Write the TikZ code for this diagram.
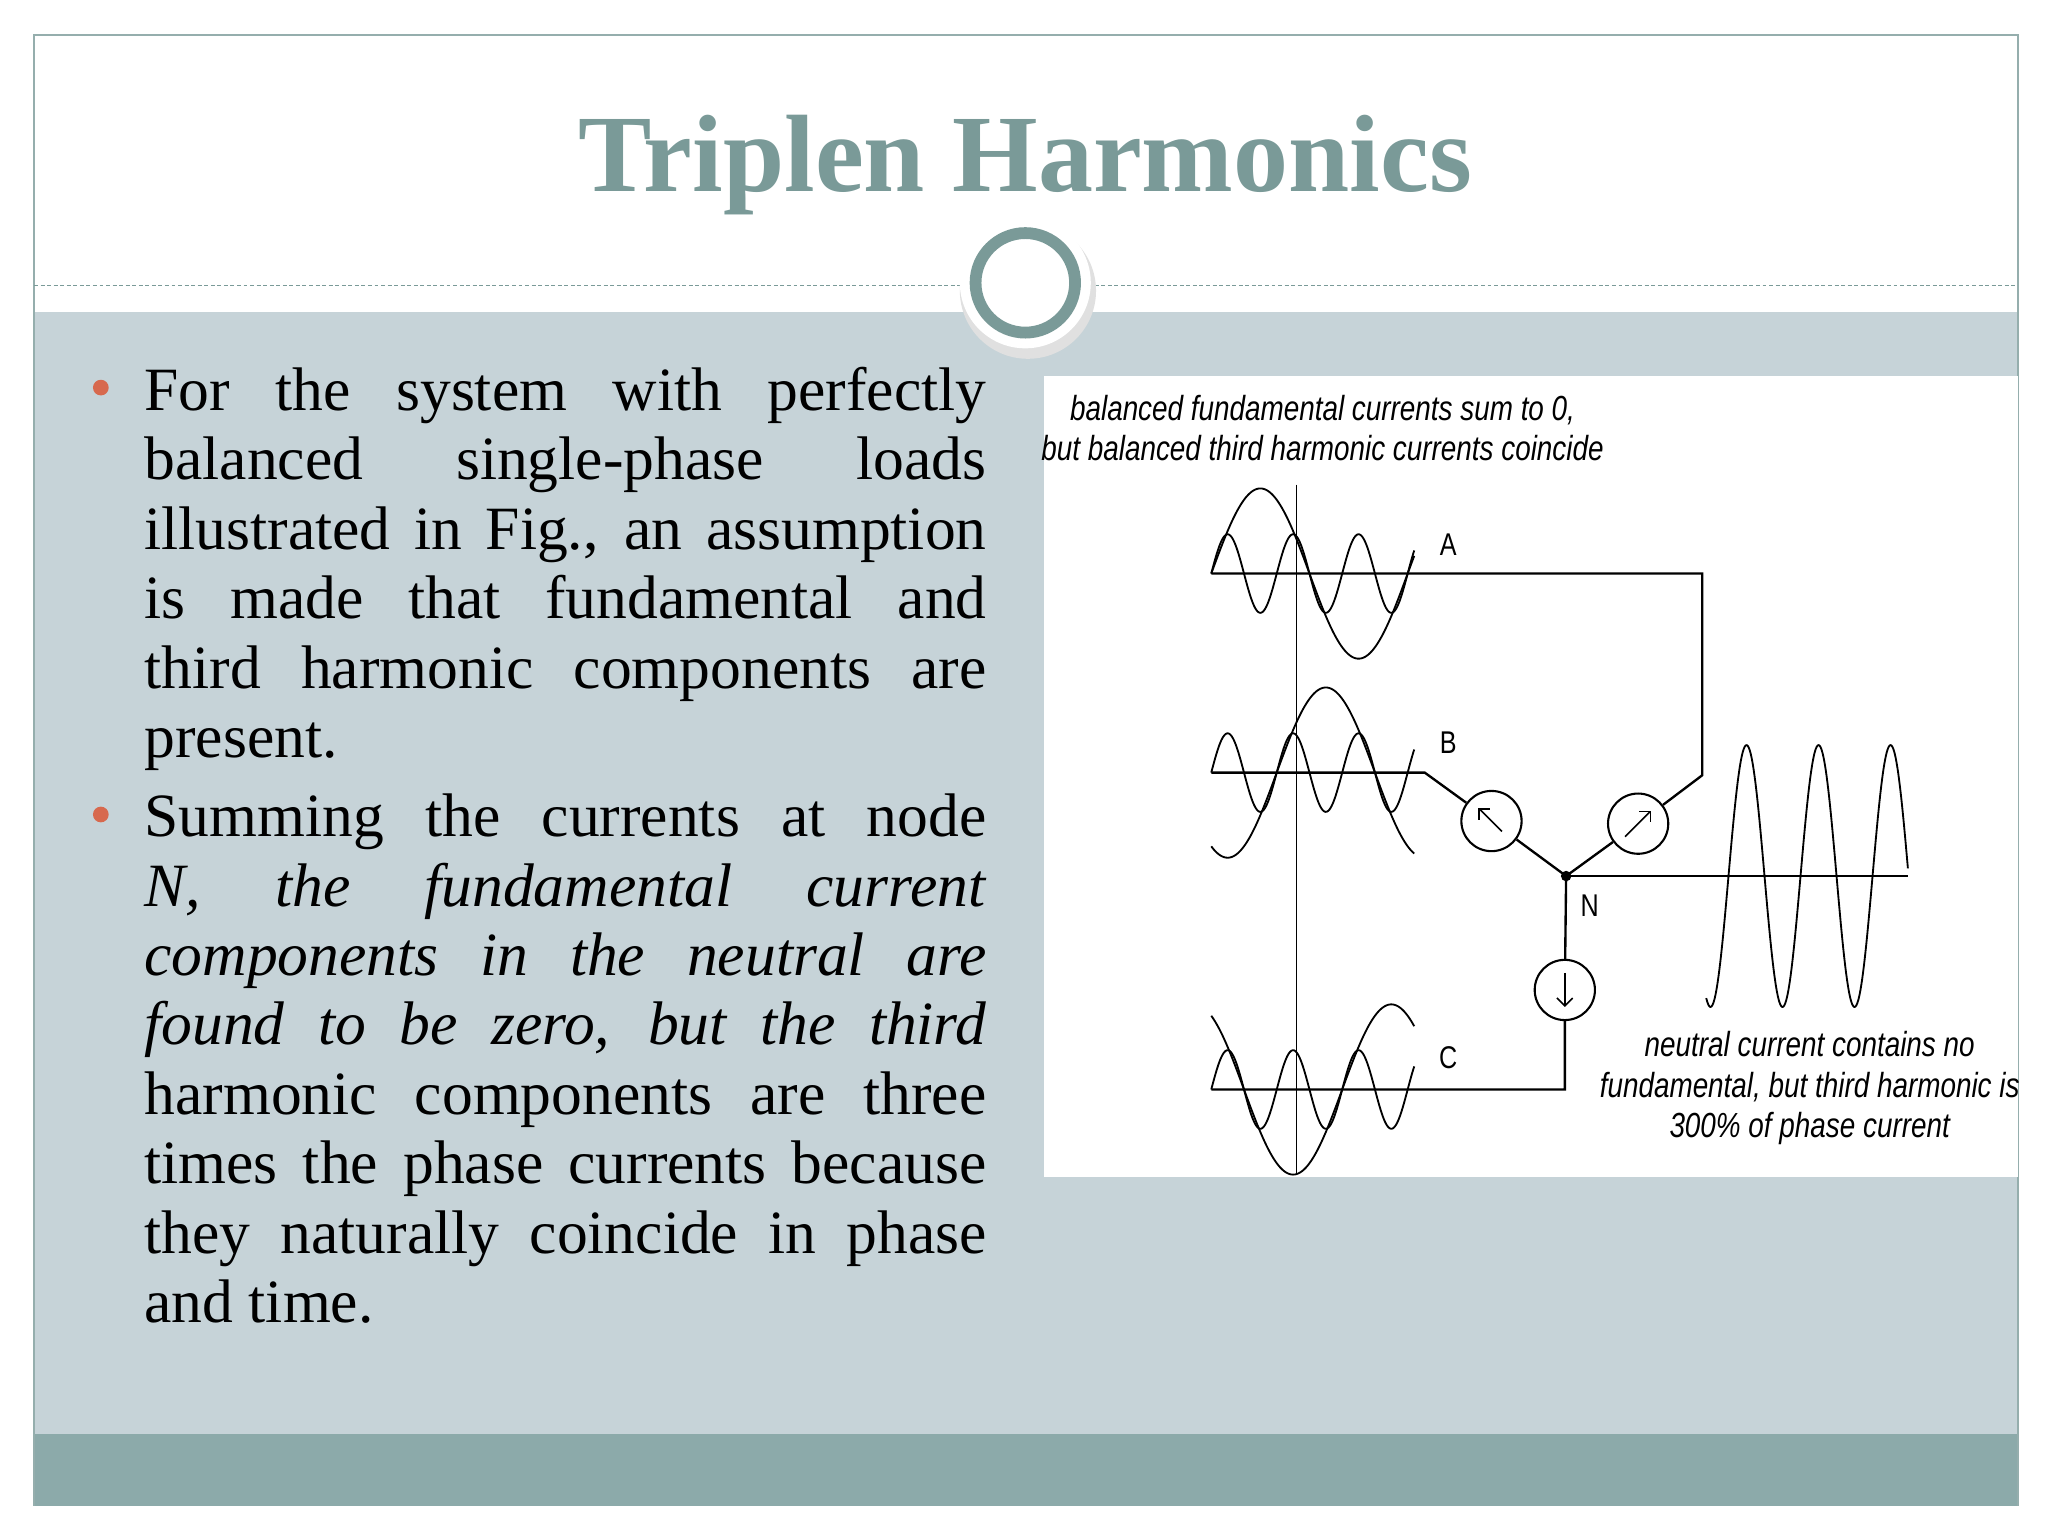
\documentclass[tikz,border=0pt]{standalone}
\usepackage{fontspec}
\setmainfont{Liberation Serif}
\newfontfamily\figfont[FakeStretch=0.8]{Liberation Sans}
\usetikzlibrary{arrows.meta}
\definecolor{teal}{HTML}{7A9A98}
\definecolor{bodybg}{HTML}{C6D3D8}
\definecolor{band}{HTML}{8CAAAA}
\definecolor{bullet}{HTML}{D7694E}
\tikzset{
  wave/.style={line width=0.7pt,samples=200,smooth},
  wire/.style={line width=0.9pt},
  meter/.style={circle,draw,line width=0.8pt,minimum size=23pt,inner sep=0pt,fill=white},
  lbl/.style={font=\figfont\fontsize{12}{14}\selectfont},
  figcap/.style={font=\figfont\itshape\fontsize{13.3}{15.5}\selectfont,align=center},
  body/.style={anchor=north west,text width=321.5pt,align=justify,inner sep=0pt,font=\fontsize{23.5}{26.5}\selectfont},
}
\begin{document}
\begin{tikzpicture}[x=0.5pt,y=-0.5pt]
\useasboundingbox (0,0) rectangle (1564,1173);
\fill[white] (0,0) rectangle (1564,1173);
% slide frame
\fill[bodybg] (26,238) rectangle (1541,1095);
\fill[band] (26,1095) rectangle (1541,1150);
\draw[teal!80,line width=0.8pt] (26,1150) -- (26,27) -- (1541,27) -- (1541,1150);
\draw[teal,dashed,dash pattern=on 1.5pt off 1pt,line width=0.6pt] (26,218) -- (1541,218);
% title
\node[text=teal,font=\bfseries\fontsize{42}{50}\selectfont] (title) at (783,126) {Triplen Harmonics};
% circle ornament
\fill[black!12] (785,222) circle (52);
\fill[white] (783,216) circle (50);
\draw[teal,line width=4.5pt,fill=white] (783,216) circle (38);
% bullets
\fill[bullet] (77,296) circle (6);
\fill[bullet] (77,622) circle (6);
\node[body] (p1) at (110,280) {For the system with perfectly\linebreak balanced single-phase loads\linebreak illustrated in Fig., an assumption\linebreak is made that fundamental and\linebreak third harmonic components are\linebreak present.};
\node[body] (p2) at (110,606) {Summing the currents at node\linebreak \textit{N, the fundamental current}\linebreak \textit{components in the neutral are}\linebreak \textit{found to be zero, but the third}\linebreak harmonic components are three\linebreak times the phase currents because\linebreak they naturally coincide in phase\linebreak and time.};
% figure
\fill[white] (797,287) rectangle (1541,899);
\node[figcap] (c1) at (1010,327) {balanced fundamental currents sum to 0,\\but balanced third harmonic currents coincide};
\node[figcap] (c2) at (1382,831) {neutral current contains no\\fundamental, but third harmonic is\\300\% of phase current};
\draw[line width=0.6pt] (990,370) -- (990,897);
% waves
\draw[wave,domain=925:1080] plot (\x,{438-65*sin(2.4*(\x-925))});
\draw[wave,domain=925:1080] plot (\x,{438-30*sin(7.2*(\x-925))});
\draw[wave,domain=925:1080] plot (\x,{590-65*sin(2.4*(\x-925)-120)});
\draw[wave,domain=925:1080] plot (\x,{590-30*sin(7.2*(\x-925))});
\draw[wave,domain=925:1080] plot (\x,{832-65*sin(2.4*(\x-925)+120)});
\draw[wave,domain=925:1080] plot (\x,{832-30*sin(7.2*(\x-925))});
\draw[wave,domain=1303:1457] plot (\x,{669-100*sin(6.545*(\x-1320))});
% circuit
\coordinate (N) at (1196,669);
\coordinate (a0) at (925,438);
\coordinate (a1) at (1300,438);
\coordinate (a2) at (1300,592);
\coordinate (b0) at (925,590);
\coordinate (b1) at (1088,590);
\coordinate (c0) at (925,832);
\coordinate (c1p) at (1195,832);
\coordinate (nend) at (1457,669);
\node[meter] (mA) at (1251,629) {};
\node[meter] (mB) at (1139,627) {};
\node[meter] (mC) at (1195,756) {};
\draw[wire] (a0) -- (a1) -- (a2) -- (mA) -- (N);
\draw[wire] (b0) -- (b1) -- (mB) -- (N);
\draw[wire] (c0) -- (c1p) -- (mC) -- (N);
\draw[line width=0.6pt] (N) -- (nend);
\fill (N) circle (4);
\draw[-{Straight Barb[length=3pt]},line width=0.6pt] ([shift={(8,8)}]mB.center) -- ([shift={(-10,-10)}]mB.center);
\draw[-{Straight Barb[length=3pt]},line width=0.6pt] ([shift={(-10,10)}]mA.center) -- ([shift={(10,-10)}]mA.center);
\draw[-{Straight Barb[length=3pt]},line width=0.6pt] ([shift={(0,-13)}]mC.center) -- ([shift={(0,13)}]mC.center);
\node[lbl] (lA) at (1106,416) {A};
\node[lbl] (lB) at (1106,567) {B};
\node[lbl] (lC) at (1106,808) {C};
\node[lbl] (lN) at (1214,692) {N};
\end{tikzpicture}
\end{document}
